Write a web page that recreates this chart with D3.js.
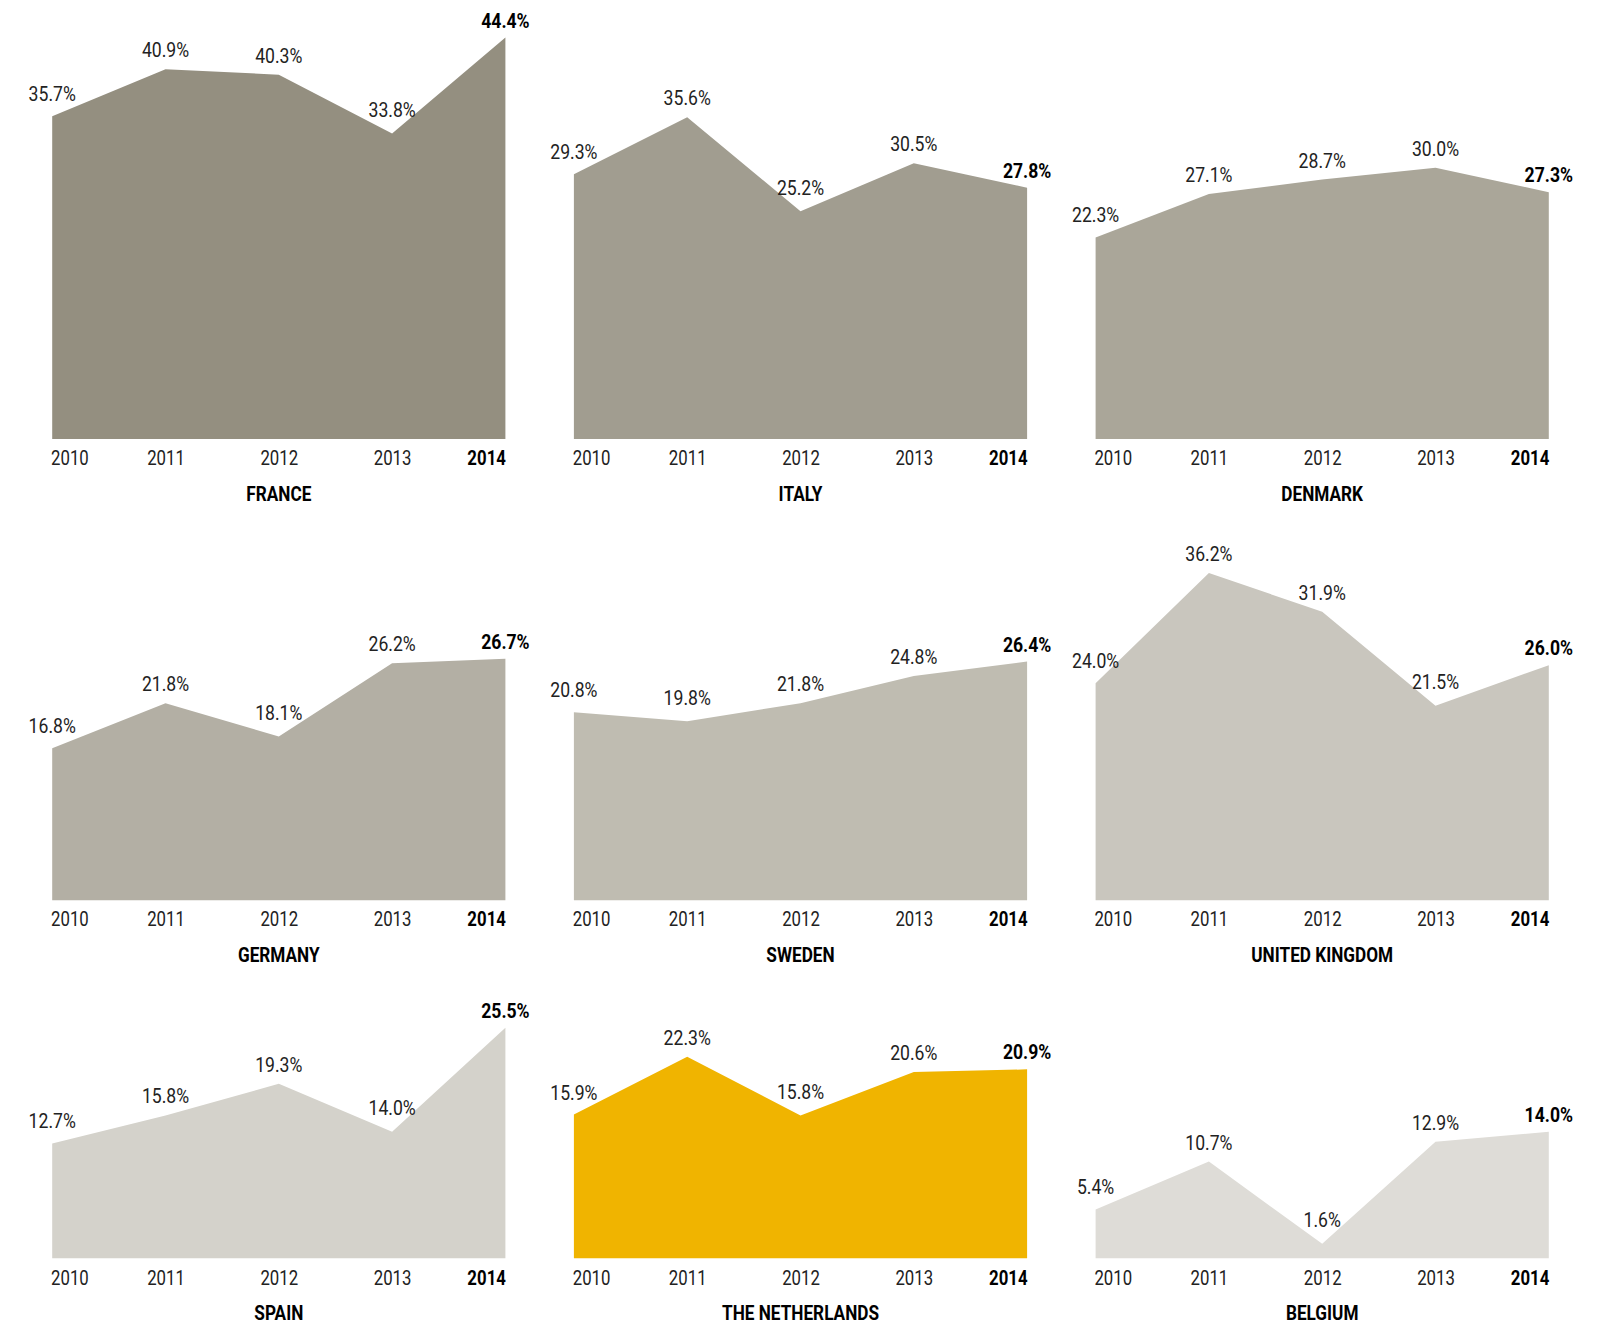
<!DOCTYPE html>
<html>
<head>
<meta charset="utf-8">
<script src="https://cdn.jsdelivr.net/npm/d3@7"></script>
<style>
  html, body { margin: 0; padding: 0; background: #ffffff; }
  svg { display: block; }
  text { font-family: Roboto, "Liberation Sans", sans-serif; }
</style>
</head>
<body>
<svg id="chart" width="1604" height="1325"></svg>
<script>
// ---- data ----
const years = ["2010", "2011", "2012", "2013", "2014"];
const countries = ["FRANCE", "ITALY", "DENMARK", "GERMANY", "SWEDEN", "UNITED KINGDOM", "SPAIN", "THE NETHERLANDS", "BELGIUM"];
const france        = [35.7, 40.9, 40.3, 33.8, 44.4];
const italy         = [29.3, 35.6, 25.2, 30.5, 27.8];
const denmark       = [22.3, 27.1, 28.7, 30.0, 27.3];
const germany       = [16.8, 21.8, 18.1, 26.2, 26.7];
const sweden        = [20.8, 19.8, 21.8, 24.8, 26.4];
const unitedKingdom = [24.0, 36.2, 31.9, 21.5, 26.0];
const spain         = [12.7, 15.8, 19.3, 14.0, 25.5];
const netherlands   = [15.9, 22.3, 15.8, 20.6, 20.9];
const belgium       = [5.4, 10.7, 1.6, 12.9, 14.0];
const seriesValues = [france, italy, denmark, germany, sweden, unitedKingdom, spain, netherlands, belgium];
const fillColors = ["#948f80", "#a19d90", "#aaa699", "#b3afa4", "#bfbcb1", "#c9c6be", "#d4d2cb", "#f0b400", "#dedcd7"];

// ---- layout ----
const svg = d3.select("#chart");
const colLeft = [52.2, 573.9, 1095.6];
const panelW = 453.2;
const rowBase = [439, 900.2, 1258.3];
const pxPerPct = 9.04;
const squeeze = 0.84;
const valSqueeze = 0.88;
const fs = 20;

const fmt = v => v.toFixed(1) + "%";

countries.forEach((name, i) => {
  const vals = seriesValues[i];
  const col = i % 3, row = Math.floor(i / 3);
  const g = svg.append("g").attr("transform", `translate(${colLeft[col]},0)`);
  const base = rowBase[row];

  const x = d3.scalePoint().domain(years).range([0, panelW]);
  const y = d3.scaleLinear().domain([0, 10]).range([base, base - 10 * pxPerPct]);

  const data = years.map((yr, k) => ({ yr, v: vals[k] }));

  const area = d3.area()
    .x(d => x(d.yr))
    .y0(y(0))
    .y1(d => y(d.v));

  g.append("path")
    .datum(data)
    .attr("d", area)
    .attr("fill", fillColors[i]);

  // value labels
  const last = data.length - 1;
  g.selectAll("text.val")
    .data(data)
    .join("text")
    .attr("class", "val")
    .attr("transform", (d, k) => {
      let off = 12;
      if (k === 0) off += 3;
      if (k === last) off -= 2;
      if (k > 0 && k < last && d.v < data[k - 1].v && d.v < data[k + 1].v) off += 4.5;
      return `translate(${x(d.yr)},${y(d.v) - off}) scale(${valSqueeze},1)`;
    })
    .attr("text-anchor", "middle")
    .attr("font-size", fs)
    .attr("font-weight", (d, k) => k === last ? "bold" : "normal")
    .attr("fill", (d, k) => k === last ? "#000" : "#222")
    .text(d => fmt(d.v));

  // x axis
  const axis = d3.axisBottom(x).tickSize(0).tickPadding(0);
  const ax = g.append("g")
    .attr("transform", `translate(0,${base + 12})`)
    .call(axis);
  ax.select(".domain").remove();
  ax.selectAll(".tick text")
    .attr("dy", "0.71em")
    .attr("x", (d, k) => k === 0 ? -2 : 0)
    .attr("font-size", fs)
    .style("font-family", 'Roboto, "Liberation Sans", sans-serif')
    .attr("transform", `scale(${squeeze},1)`)
    .attr("text-anchor", (d, k) => k === 0 ? "start" : (k === years.length - 1 ? "end" : "middle"))
    .attr("font-weight", (d, k) => k === years.length - 1 ? "bold" : "normal")
    .attr("fill", (d, k) => k === years.length - 1 ? "#000" : "#222");

  // title
  g.append("text")
    .attr("transform", `translate(${panelW / 2},${base + 62}) scale(0.86,1)`)
    .attr("text-anchor", "middle")
    .attr("font-size", fs)
    .attr("font-weight", "bold")
    .attr("fill", "#000")
    .text(name);
});
</script>
</body>
</html>
